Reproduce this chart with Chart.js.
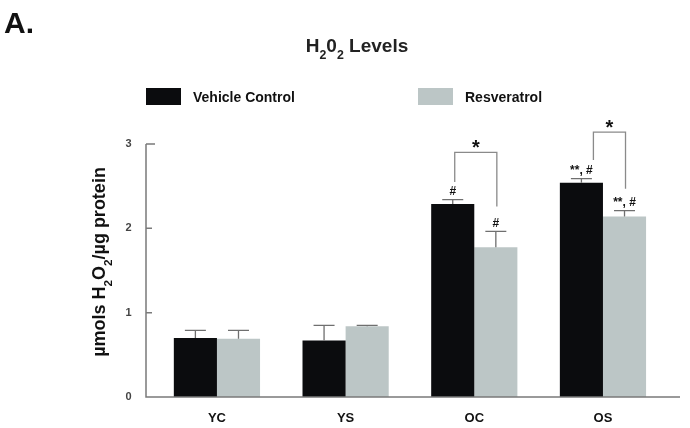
<!DOCTYPE html>
<html>
<head>
<meta charset="utf-8">
<script src="https://cdn.jsdelivr.net/npm/chart.js"></script>
<style>
	html, body { margin: 0; padding: 0; background: #fff; }
	#wrap { width: 690px; height: 428px; }
</style>
</head>
<body>
<div id="wrap"><canvas id="myChart" width="690" height="428"></canvas></div>
<script>
// data
const groups = ["YC", "YS", "OC", "OS"];
const vehicle = [0.70, 0.67, 2.29, 2.54];
const vehicleErr = [0.09, 0.18, 0.05, 0.05];
const resveratrol = [0.69, 0.84, 1.775, 2.14];
const resveratrolErr = [0.10, 0.01, 0.19, 0.07];
const vehicleMarks = ["", "", "#", "**, #"];
const resveratrolMarks = ["", "", "#", "**, #"];
const yTicks = [0, 1, 2, 3];
// significance brackets between the two bars of a group
const brackets = [
	{ group: 2, top: 2.90, left: 2.55, right: 2.26, shift: 2 },
	{ group: 3, top: 3.14, left: 2.81, right: 2.47, shift: 12 }
];

const FONT = "'Liberation Sans', Arial, sans-serif";
const BLACK = "#0b0c0e";
const GREY = "#bcc6c6";
const AXIS = "#7a7a7a";

// text with subscripts, e.g. [["H",0],["2",1],["0",0]]
function subText(ctx, parts, x, y, size, align) {
	let w = 0;
	parts.forEach((p) => {
		ctx.font = "bold " + (p[1] ? size * 0.65 : size) + "px " + FONT;
		w += ctx.measureText(p[0]).width;
	});
	let cx = align === "center" ? x - w / 2 : x;
	ctx.textAlign = "left";
	ctx.textBaseline = "alphabetic";
	parts.forEach((p) => {
		ctx.font = "bold " + (p[1] ? size * 0.65 : size) + "px " + FONT;
		ctx.fillText(p[0], cx, p[1] ? y + size * 0.38 : y);
		cx += ctx.measureText(p[0]).width;
	});
}

const extras = {
	id: "extras",
	afterDraw(chart) {
		const ctx = chart.ctx;
		const y = chart.scales.y;
		const area = chart.chartArea;
		ctx.save();

		// axes, drawn a bit wider than the category slots
		ctx.strokeStyle = AXIS;
		ctx.lineWidth = 1.5;
		ctx.beginPath();
		ctx.moveTo(146, y.getPixelForValue(3));
		ctx.lineTo(146, area.bottom);
		ctx.lineTo(680, area.bottom);
		yTicks.forEach((t) => {
			const py = y.getPixelForValue(t);
			ctx.moveTo(146, py);
			ctx.lineTo(t === 3 ? 155 : 152, py);
		});
		ctx.stroke();

		// error bars
		const errs = [vehicleErr, resveratrolErr];
		const vals = [vehicle, resveratrol];
		const marks = [vehicleMarks, resveratrolMarks];
		ctx.lineWidth = 1.3;
		ctx.strokeStyle = "#6f6f6f";
		ctx.fillStyle = "#111";
		[0, 1].forEach((d) => {
			chart.getDatasetMeta(d).data.forEach((bar, i) => {
				const top = y.getPixelForValue(vals[d][i] + errs[d][i]);
				ctx.beginPath();
				ctx.moveTo(bar.x, bar.y);
				ctx.lineTo(bar.x, top);
				ctx.moveTo(bar.x - 10.5, top);
				ctx.lineTo(bar.x + 10.5, top);
				ctx.stroke();
				if (marks[d][i]) {
					ctx.font = "bold 12px " + FONT;
					ctx.textAlign = "center";
					ctx.textBaseline = "bottom";
					ctx.fillText(marks[d][i], bar.x, top - 2);
				}
			});
		});

		// brackets
		brackets.forEach((b) => {
			const l = chart.getDatasetMeta(0).data[b.group].x + b.shift;
			const r = chart.getDatasetMeta(1).data[b.group].x + 1;
			const t = y.getPixelForValue(b.top);
			ctx.strokeStyle = "#8a8a8a";
			ctx.lineWidth = 1.3;
			ctx.beginPath();
			ctx.moveTo(l, y.getPixelForValue(b.left));
			ctx.lineTo(l, t);
			ctx.lineTo(r, t);
			ctx.lineTo(r, y.getPixelForValue(b.right));
			ctx.stroke();
			ctx.font = "bold 20px " + FONT;
			ctx.textAlign = "center";
			ctx.textBaseline = "alphabetic";
			ctx.fillText("*", (l + r) / 2, t + 2);
		});

		// panel letter and title
		ctx.fillStyle = "#111";
		ctx.font = "bold 30px " + FONT;
		ctx.textAlign = "left";
		ctx.fillText("A.", 4, 33);
		ctx.fillStyle = "#222";
		subText(ctx, [["H", 0], ["2", 1], ["0", 0], ["2", 1], [" Levels", 0]], 357, 52, 19, "center");

		// legend
		chart.data.datasets.forEach((ds, i) => {
			const bx = i === 0 ? 146 : 418;
			ctx.fillStyle = ds.backgroundColor;
			ctx.fillRect(bx, 88, 35, 17);
			ctx.fillStyle = "#111";
			ctx.font = "bold 14px " + FONT;
			ctx.textAlign = "left";
			ctx.textBaseline = "middle";
			ctx.fillText(ds.label, bx + 47, 98);
		});

		// y title
		ctx.translate(105, 262);
		ctx.rotate(-Math.PI / 2);
		ctx.fillStyle = "#111";
		subText(ctx, [["\u00b5mols H", 0], ["2", 1], ["O", 0], ["2", 1], ["/\u00b5g protein", 0]], 0, 0, 18, "center");
		ctx.restore();
	}
};

new Chart(document.getElementById("myChart").getContext("2d"), {
	type: "bar",
	data: {
		labels: groups,
		datasets: [
			{ label: "Vehicle Control", data: vehicle, backgroundColor: BLACK, borderWidth: 0 },
			{ label: "Resveratrol", data: resveratrol, backgroundColor: GREY, borderWidth: 0 }
		]
	},
	options: {
		responsive: false,
		animation: false,
		events: [],
		layout: { padding: { top: 144, left: 122.6, right: 22.7, bottom: 0 } },
		datasets: { bar: { categoryPercentage: 0.67, barPercentage: 1.0 } },
		scales: {
			x: {
				afterFit: (s) => { s.height = 31; },
				grid: { display: false, drawTicks: false },
				border: { display: false },
				ticks: { padding: 14, color: "#111", font: { family: FONT, size: 13, weight: "bold" } }
			},
			y: {
				min: 0,
				max: 3,
				afterFit: (s) => { s.width = 30; },
				afterBuildTicks: (s) => { s.ticks = yTicks.map((v) => ({ value: v })); },
				grid: { display: false, drawTicks: false },
				border: { display: false },
				ticks: { padding: 21, color: "#444", font: { family: FONT, size: 11, weight: "bold" } }
			}
		},
		plugins: {
			legend: { display: false },
			title: { display: false },
			tooltip: { enabled: false }
		}
	},
	plugins: [extras]
});
</script>
</body>
</html>
